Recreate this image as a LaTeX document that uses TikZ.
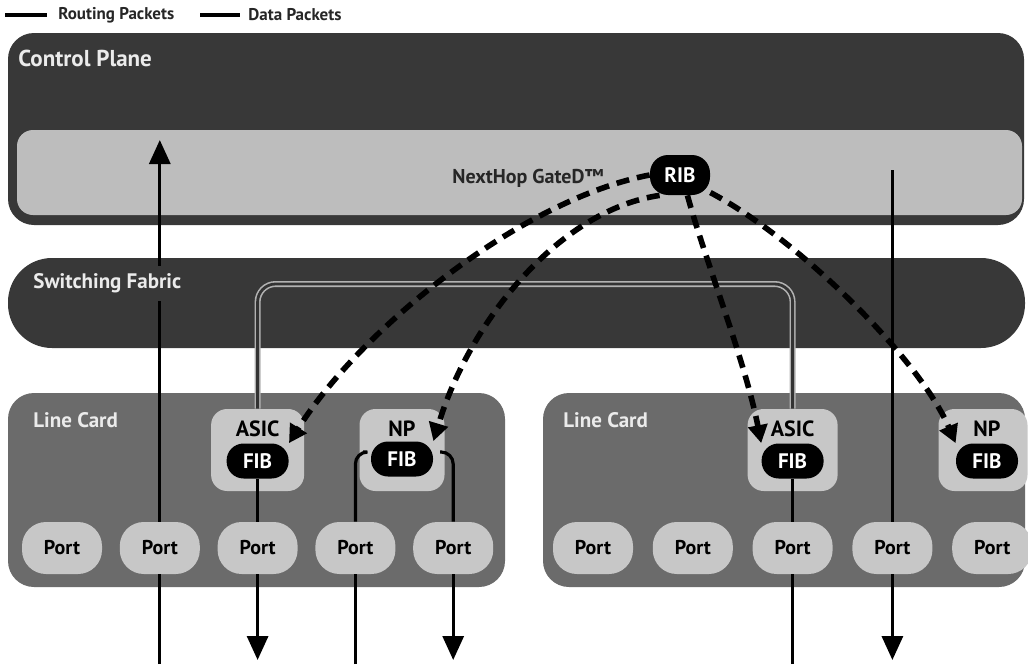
\documentclass[tikz,border=0pt]{standalone}
\usepackage{fontspec}
\setmainfont{PT Sans}
\usepackage{xcolor}
\usepackage{tikz}
\usetikzlibrary{arrows.meta, positioning, calc}
\definecolor{planegray}{gray}{0.22}
\definecolor{bandgray}{gray}{0.74}
\definecolor{cardgray}{gray}{0.42}
\definecolor{portgray}{gray}{0.78}
\definecolor{titlegray}{gray}{0.92}
\tikzstyle{plane} = [fill=planegray, rounded corners=13pt, inner sep=0pt]
\tikzstyle{band} = [fill=bandgray, rounded corners=8pt, inner sep=0pt, minimum width=502.5pt, minimum height=42.5pt]
\tikzstyle{card} = [fill=cardgray, rounded corners=13pt, inner sep=0pt, minimum height=97pt]
\tikzstyle{port} = [fill=portgray, rounded corners=12pt, minimum width=40pt, minimum height=26pt, inner sep=0pt, font=\bfseries\fontsize{10}{12}\selectfont]
\tikzstyle{chip} = [fill=portgray, rounded corners=8pt, minimum height=41pt, inner sep=0pt]
\tikzstyle{chiptext} = [inner sep=0pt, font=\bfseries\fontsize{11}{12}\selectfont]
\tikzstyle{fib} = [fill=black, text=white, rounded corners=8.5pt, minimum width=31pt, minimum height=17.5pt, inner sep=0pt, font=\bfseries\fontsize{10.5}{12}\selectfont]
\tikzstyle{title} = [text=titlegray, anchor=west, inner sep=0pt, font=\bfseries\fontsize{10.5}{12}\selectfont]
\tikzstyle{legend} = [anchor=west, inner sep=0pt, text=black!85, font=\bfseries\fontsize{8.5}{10}\selectfont]
\tikzstyle{legline} = [draw, line width=2.2pt]
\tikzstyle{dataline} = [draw, line width=1.6pt]
\tikzstyle{datarrow} = [draw, line width=1.6pt, -{Triangle[length=12pt,width=10.5pt]}]
\tikzstyle{fabricline} = [draw=gray!60, double=black!80, double distance=1.4pt, line width=0.8pt]
\tikzstyle{routearrow} = [draw, line width=2.8pt, dash pattern=on 6.5pt off 4pt, -{Triangle[length=9pt,width=9.5pt]}]

\begin{document}
\begin{tikzpicture}[x=0.5pt, y=-0.5pt, node distance=8.5pt]
    \useasboundingbox (0,0) rectangle (1028,664);

    \node (legroute) [legend] at (58,15) {Routing Packets};
    \node (legdata) [legend] at (248,15) {Data Packets};
    \coordinate (legroutestart) at (5,15);
    \coordinate (legdatastart) at (200,15);
    \draw [legline, shorten >=5.5pt] (legroutestart) -- (legroute.west);
    \draw [legline, shorten >=4pt] (legdatastart) -- (legdata.west);

    \node (ctrl) [plane, minimum width=508pt, minimum height=96pt] at (516,129) {};
    \node (ctrltitle) [title, font=\bfseries\fontsize{11.5}{13}\selectfont] at (18,58) {Control Plane};
    \node (gated) [band] at (519.5,172.5) {};
    \node (gatedtitle) [chiptext, text=black!85, font=\bfseries\fontsize{10}{12}\selectfont] at (528,178) {NextHop GateD™};
    \node (rib) [fib, minimum width=30pt, minimum height=20pt, rounded corners=9pt] at (680,175) {RIB};

    \node (fabric) [plane, rounded corners=22pt, minimum width=508.5pt, minimum height=45pt] at (516.5,303) {};

    \node (lcard) [card, minimum width=248.5pt] at (256.5,490) {};
    \node (rcard) [card, minimum width=241pt] at (784,490) {};
    \node (lcardtitle) [title] at (33,420) {Line Card};
    \node (rcardtitle) [title] at (563,420) {Line Card};

    \node (p1) [port] at (62,548) {Port};
    \node (p2) [port, right=of p1] {Port};
    \node (p3) [port, right=of p2] {Port};
    \node (p4) [port, right=of p3] {Port};
    \node (p5) [port, right=of p4] {Port};
    \node (rp1) [port] at (593,548) {Port};
    \node (rp2) [port, right=9.5pt of rp1] {Port};
    \node (rp3) [port, right=9.5pt of rp2] {Port};
    \node (rp4) [port, right=9.5pt of rp3] {Port};
    \node (rp5) [port, right=9.5pt of rp4] {Port};

    \node (lasic) [chip, minimum width=46.5pt] at (p3 |- 0,450) {};
    \node (lasictext) [chiptext] at (p3 |- 0,429) {ASIC};
    \node (lafib) [fib] at (p3 |- 0,461) {FIB};
    \node (lnp) [chip, minimum width=42.5pt] at (402,450) {};
    \node (lnptext) [chiptext] at (402,429) {NP};
    \node (lnpfib) [fib] at (402,459) {FIB};
    \node (rasic) [chip, minimum width=45pt] at (rp3 |- 0,450) {};
    \node (rasictext) [chiptext] at (rp3 |- 0,429) {ASIC};
    \node (rafib) [fib] at (rp3 |- 0,461) {FIB};
    \node (rnp) [chip, minimum width=44.5pt] at (983,450) {};
    \node (rnptext) [chiptext] at (987,429) {NP};
    \node (rnpfib) [fib] at (987,461) {FIB};

    \coordinate (in2) at (p2 |- 0,664);
    \coordinate (up2) at (p2 |- 0,140);
    \coordinate (out3) at (p3 |- 0,660);
    \coordinate (in4) at (p4 |- 0,664);
    \coordinate (out5) at (p5 |- 0,660);
    \coordinate (npin) at (363,452);
    \coordinate (npout) at (440,452);
    \coordinate (fabrow) at (0,284);
    \coordinate (rin3) at (rp3 |- 0,664);
    \coordinate (gdout) at (rp4 |- 0,170);
    \coordinate (rout4) at (rp4 |- 0,660);

    \draw [dataline] (in2) -- (p2.south);
    \draw [datarrow] (p2.north) -- (up2);
    \draw [fabricline, rounded corners=9pt] (lasic.north) -- (lasic.north |- fabrow) -| (rasic.north);
    \draw [dataline] (lafib.south) -- (p3.north);
    \draw [datarrow] (p3.south) -- (out3);
    \draw [dataline] (in4) -- (p4.south);
    \draw [dataline, rounded corners=6pt] (p4.north) |- (npin);
    \draw [dataline, rounded corners=6pt] (npout) -| (p5.north);
    \draw [datarrow] (p5.south) -- (out5);
    \draw [dataline] (rin3) -- (rp3.south);
    \draw [dataline] (rp3.north) -- (rafib.south);
    \draw [dataline] (gdout) -- (rp4.north);
    \draw [datarrow] (rp4.south) -- (rout4);

    \node (fabrictitle) [title, fill=planegray, minimum height=17.5pt] at (33,283) {Switching Fabric};

    \draw [routearrow] (rib.180) .. controls (520,200) and (360,330) .. (lafib.north east);
    \draw [routearrow] (rib.225) .. controls (560,210) and (470,320) .. (lnpfib.north east);
    \draw [routearrow] (rib.290) .. controls (705,260) and (745,360) .. (rafib.north west);
    \draw [routearrow] (rib.330) .. controls (800,240) and (920,360) .. (rnpfib.north west);
\end{tikzpicture}
\end{document}
